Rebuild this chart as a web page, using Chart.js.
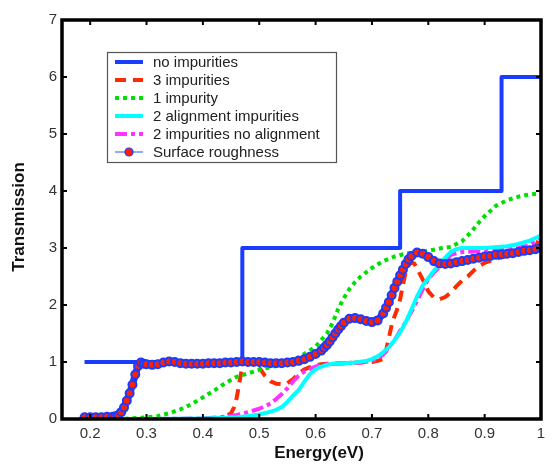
<!DOCTYPE html>
<html>
<head>
<meta charset="utf-8">
<script src="https://cdn.jsdelivr.net/npm/chart.js@4/dist/chart.umd.min.js"></script>
<style>
html,body{margin:0;padding:0;background:#fff;}
#wrap{width:559px;height:469px;}
</style>
</head>
<body>
<div id="wrap"><canvas id="c" width="559" height="469"></canvas></div>
<script>
// ---------- data ----------
const seriesNames = ["no impurities","3 impurities","1 impurity","2 alignment impurities","2 impurities no alignment","Surface roughness"];
const xTicks = [0.2,0.3,0.4,0.5,0.6,0.7,0.8,0.9,1.0];
const yTicks = [0,1,2,3,4,5,6,7];

const noImpE = [0.19,0.47,0.47,0.75,0.75,0.93,0.93,1.0];
const noImpT = [1,1,3,3,4,4,6,6];

const imp3E = [0.19,0.25,0.30,0.35,0.40,0.43,0.44,0.45,0.455,0.46,0.465,0.47,0.475,0.48,0.49,0.50,0.51,0.52,0.53,0.54,0.55,0.56,0.57,0.58,0.59,0.60,0.61,0.62,0.65,0.68,0.70,0.71,0.72,0.725,0.73,0.735,0.74,0.745,0.75,0.755,0.76,0.765,0.77,0.775,0.78,0.79,0.80,0.81,0.82,0.83,0.84,0.85,0.86,0.87,0.88,0.89,0.90,0.92,0.94,0.96,0.97,0.98,0.99,1.00];
const imp3T = [0,0,0,0,0,0.01,0.04,0.1,0.2,0.37,0.65,0.92,1.0,0.99,0.95,0.9,0.76,0.66,0.62,0.61,0.63,0.7,0.8,0.87,0.91,0.94,0.96,0.97,0.98,0.99,1.0,1.02,1.05,1.2,1.42,1.65,1.8,1.93,2.1,2.35,2.58,2.7,2.74,2.73,2.64,2.45,2.24,2.13,2.1,2.14,2.22,2.33,2.43,2.5,2.6,2.68,2.74,2.81,2.86,2.9,2.92,2.95,3.0,3.25];

const imp1E = [0.19,0.25,0.27,0.29,0.30,0.32,0.34,0.36,0.38,0.40,0.42,0.44,0.46,0.48,0.50,0.52,0.54,0.56,0.58,0.60,0.62,0.63,0.64,0.65,0.66,0.67,0.68,0.70,0.72,0.74,0.76,0.78,0.80,0.82,0.84,0.86,0.87,0.88,0.89,0.90,0.92,0.94,0.96,0.98,1.00];
const imp1T = [0,0,0.01,0.02,0.03,0.05,0.1,0.17,0.26,0.38,0.5,0.63,0.74,0.8,0.86,0.91,0.96,1.03,1.14,1.27,1.5,1.68,1.93,2.12,2.28,2.4,2.5,2.65,2.77,2.85,2.9,2.93,2.95,2.99,3.02,3.12,3.22,3.33,3.45,3.56,3.74,3.84,3.9,3.94,3.96];

const alignE = [0.19,0.30,0.40,0.44,0.46,0.48,0.50,0.52,0.53,0.54,0.55,0.56,0.57,0.58,0.59,0.60,0.61,0.62,0.63,0.65,0.67,0.69,0.70,0.71,0.72,0.73,0.74,0.75,0.76,0.77,0.78,0.79,0.80,0.81,0.82,0.83,0.84,0.85,0.86,0.90,0.94,0.96,0.98,1.00];
const alignT = [0,0,0.01,0.02,0.03,0.05,0.08,0.13,0.16,0.21,0.3,0.41,0.51,0.65,0.79,0.87,0.92,0.95,0.97,0.98,0.99,1.02,1.05,1.1,1.17,1.26,1.38,1.52,1.7,1.92,2.15,2.34,2.47,2.6,2.72,2.83,2.93,2.98,3.0,3.0,3.03,3.07,3.13,3.22];

const noAlignE = [0.19,0.30,0.40,0.44,0.46,0.48,0.50,0.52,0.53,0.54,0.55,0.56,0.57,0.58,0.59,0.60,0.62,0.65,0.68,0.70,0.71,0.72,0.73,0.74,0.75,0.76,0.77,0.78,0.79,0.80,0.81,0.82,0.83,0.84,0.86,0.90,0.94,0.96,0.98,1.00];
const noAlignT = [0,0,0.01,0.04,0.07,0.12,0.18,0.27,0.35,0.44,0.54,0.66,0.76,0.83,0.88,0.92,0.96,0.98,0.99,1.02,1.06,1.13,1.25,1.38,1.55,1.7,1.88,2.07,2.27,2.45,2.57,2.67,2.78,2.88,2.93,2.95,2.98,3.0,3.05,3.18];

const roughE = [0.19,0.20,0.21,0.22,0.23,0.24,0.245,0.25,0.255,0.26,0.265,0.27,0.275,0.28,0.285,0.29,0.295,0.30,0.31,0.32,0.33,0.34,0.35,0.36,0.37,0.38,0.39,0.40,0.41,0.42,0.43,0.44,0.45,0.46,0.47,0.48,0.49,0.50,0.51,0.52,0.53,0.54,0.55,0.56,0.57,0.58,0.59,0.60,0.61,0.615,0.62,0.625,0.63,0.635,0.64,0.645,0.65,0.66,0.67,0.68,0.69,0.70,0.71,0.72,0.725,0.73,0.735,0.74,0.745,0.75,0.755,0.76,0.765,0.77,0.78,0.79,0.80,0.81,0.82,0.83,0.84,0.85,0.86,0.87,0.88,0.89,0.90,0.91,0.92,0.93,0.94,0.95,0.96,0.97,0.98,0.99,1.00];
const roughT = [0.03,0.03,0.03,0.03,0.04,0.04,0.05,0.07,0.12,0.2,0.32,0.45,0.6,0.78,0.93,0.99,0.97,0.96,0.95,0.96,0.99,1.01,1.0,0.98,0.97,0.97,0.97,0.97,0.98,0.98,0.98,0.99,0.99,1.0,1.01,1.0,1.0,1.0,0.99,0.98,0.98,0.98,0.99,1.0,1.02,1.05,1.09,1.14,1.2,1.25,1.3,1.36,1.43,1.5,1.57,1.63,1.69,1.76,1.77,1.75,1.72,1.7,1.73,1.85,1.95,2.05,2.17,2.3,2.41,2.52,2.62,2.72,2.8,2.86,2.92,2.9,2.84,2.77,2.73,2.72,2.73,2.75,2.77,2.79,2.81,2.83,2.85,2.86,2.88,2.89,2.9,2.91,2.93,2.95,2.96,2.98,3.0];

// ---------- styling ----------
const BLUE = '#1a3cff', RED = '#ff2a00', GREEN = '#00e000', CYAN = '#00ffff', MAGENTA = '#ff33ff';
const styles = [
  {color: BLUE, dash: [], width: 4},
  {color: RED, dash: [11,7], width: 4},
  {color: GREEN, dash: [4,4], width: 4},
  {color: CYAN, dash: [], width: 4},
  {color: MAGENTA, dash: [12,4,4,4], width: 4},
  {color: BLUE, dash: [], width: 7}
];

function pts(E, T){ return E.map((e,i)=>({x:e, y:T[i]})); }
const allE = [noImpE, imp3E, imp1E, alignE, noAlignE, roughE];
const allT = [noImpT, imp3T, imp1T, alignT, noAlignT, roughT];
const orders = [6,5,4,2,3,0];

const datasets = seriesNames.map((n,i)=>{
  const s = styles[i];
  const d = {
    label: n, data: pts(allE[i], allT[i]), borderColor: s.color, backgroundColor: s.color,
    borderWidth: s.width, borderDash: s.dash, borderCapStyle: 'butt', borderJoinStyle: 'round',
    pointRadius: 0, tension: 0, fill: false, order: orders[i]
  };
  if (i === 5) {
    d.pointRadius = 4; d.pointBackgroundColor = '#ff2000'; d.pointBorderColor = BLUE; d.pointBorderWidth = 2;
  }
  return d;
});

const framePlugin = {
  id: 'frame',
  afterDatasetsDraw(chart){
    const {ctx, chartArea: a, scales} = chart;
    ctx.save();
    ctx.setLineDash([]);
    ctx.strokeStyle = '#000';
    ctx.lineWidth = 2;
    xTicks.forEach(v=>{
      const px = scales.x.getPixelForValue(v);
      ctx.beginPath(); ctx.moveTo(px, a.bottom); ctx.lineTo(px, a.bottom-5); ctx.stroke();
      ctx.beginPath(); ctx.moveTo(px, a.top); ctx.lineTo(px, a.top+5); ctx.stroke();
    });
    yTicks.forEach(v=>{
      const py = scales.y.getPixelForValue(v);
      ctx.beginPath(); ctx.moveTo(a.left, py); ctx.lineTo(a.left+5, py); ctx.stroke();
      ctx.beginPath(); ctx.moveTo(a.right, py); ctx.lineTo(a.right-5, py); ctx.stroke();
    });
    ctx.lineWidth = 3.5;
    ctx.strokeRect(a.left, a.top, a.right-a.left, a.bottom-a.top);
    ctx.restore();
  },
  afterDraw(chart){
    const {ctx} = chart;
    ctx.save();
    ctx.fillStyle = '#111';
    ctx.font = 'bold 17px "Liberation Sans", Arial, sans-serif';
    ctx.textAlign = 'center'; ctx.textBaseline = 'middle';
    ctx.fillText('Energy(eV)', 319, 453);
    ctx.translate(19, 217); ctx.rotate(-Math.PI/2);
    ctx.fillText('Transmission', 0, 0);
    ctx.restore();

    ctx.save();
    const L = 107, T = 52, W = 229, H = 110;
    ctx.fillStyle = '#fff';
    ctx.fillRect(L, T, W, H);
    ctx.strokeStyle = '#555'; ctx.lineWidth = 1.2; ctx.setLineDash([]);
    ctx.strokeRect(L+0.5, T+0.5, W, H);
    ctx.font = '15px "Liberation Sans", Arial, sans-serif';
    ctx.textAlign = 'left'; ctx.textBaseline = 'middle';
    seriesNames.forEach((n,i)=>{
      const y = 62 + i*18;
      const s = styles[i];
      ctx.save();
      if (i === 5) {
        ctx.strokeStyle = '#6f8cff'; ctx.lineWidth = 1.5; ctx.setLineDash([]);
        ctx.beginPath(); ctx.moveTo(115, y); ctx.lineTo(143, y); ctx.stroke();
        ctx.beginPath(); ctx.arc(129, y, 4, 0, Math.PI*2);
        ctx.fillStyle = '#ff2000'; ctx.fill();
        ctx.strokeStyle = BLUE; ctx.lineWidth = 1.2; ctx.stroke();
      } else {
        ctx.strokeStyle = s.color; ctx.lineWidth = s.width; ctx.lineCap = 'butt';
        ctx.setLineDash(s.dash);
        ctx.beginPath(); ctx.moveTo(115, y); ctx.lineTo(143, y); ctx.stroke();
      }
      ctx.restore();
      ctx.fillStyle = '#222';
      ctx.fillText(n, 153, y+1);
    });
    ctx.restore();
  }
};

new Chart(document.getElementById('c'), {
  type: 'line',
  data: { datasets },
  options: {
    responsive: false, animation: false, devicePixelRatio: 1,
    layout: { padding: { left: 0, top: 20, right: 18, bottom: 0 } },
    plugins: { legend: { display: false }, tooltip: { enabled: false } },
    scales: {
      x: {
        type: 'linear', min: 0.15, max: 1,
        afterBuildTicks(s){ s.ticks = xTicks.map(v=>({value:v})); },
        afterFit(s){ s.height = 50; },
        grid: { display: false, drawTicks: false }, border: { display: false },
        ticks: { color: '#333', padding: 6, maxRotation: 0, autoSkip: false,
          font: { family: '"Liberation Sans", Arial, sans-serif', size: 15 },
          callback: v => (Math.round(v*10)/10).toString() }
      },
      y: {
        type: 'linear', min: 0, max: 7,
        afterBuildTicks(s){ s.ticks = yTicks.map(v=>({value:v})); },
        afterFit(s){ s.width = 62; },
        grid: { display: false, drawTicks: false }, border: { display: false },
        ticks: { color: '#333', padding: 5,
          font: { family: '"Liberation Sans", Arial, sans-serif', size: 15 } }
      }
    }
  },
  plugins: [framePlugin]
});
</script>
</body>
</html>
